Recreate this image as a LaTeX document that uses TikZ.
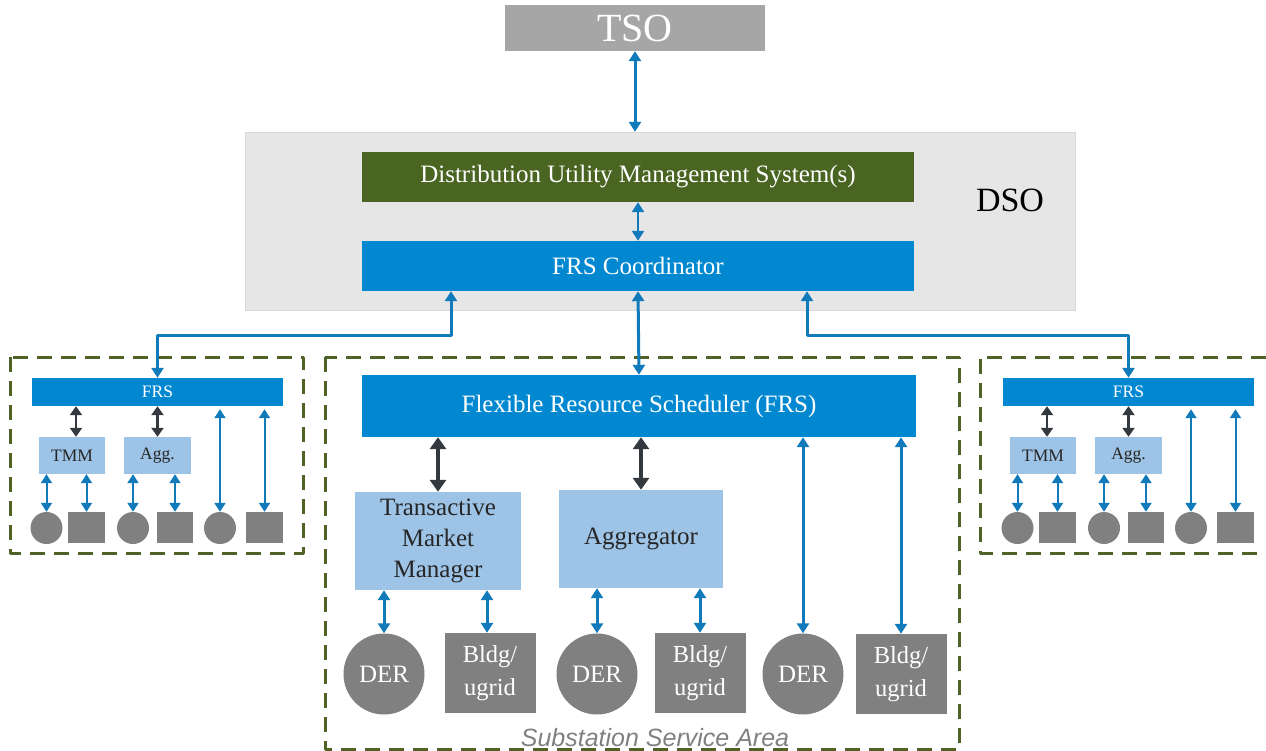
\documentclass[tikz,border=0pt]{standalone}
\usepackage{fontspec}
\setmainfont{Liberation Serif}
\setsansfont{Liberation Sans}
\usetikzlibrary{calc}
\usetikzlibrary{arrows.meta}

\definecolor{frsblue}{RGB}{2,136,209}
\definecolor{linkblue}{RGB}{16,122,186}
\definecolor{ltblue}{RGB}{157,195,230}
\definecolor{dsogreen}{RGB}{74,101,34}
\definecolor{areagreen}{RGB}{79,98,40}
\definecolor{resgray}{RGB}{128,128,128}
\definecolor{tsogray}{RGB}{166,166,166}
\definecolor{dsobg}{RGB}{230,230,230}
\definecolor{darklink}{RGB}{52,57,64}

\begin{document}
\begin{tikzpicture}[x=1pt, y=-1pt, line join = round]
\tikzstyle{bar}=[fill=frsblue, text=white, inner sep=0, minimum width=552pt, minimum height=50pt, font=\fontsize{25}{29}\selectfont]
\tikzstyle{midbox}=[fill=ltblue, text=black!85, inner sep=0, minimum height=98pt, align=center, font=\fontsize{25}{31}\selectfont]
\tikzstyle{der}=[circle, fill=resgray, text=white, inner sep=0, minimum size=81pt, font=\fontsize{25}{29}\selectfont]
\tikzstyle{bldg}=[fill=resgray, text=white, inner sep=0, minimum width=91pt, minimum height=80pt, align=center, font=\fontsize{24.5}{33}\selectfont]
\tikzstyle{smallbar}=[fill=frsblue, text=white, inner sep=0, minimum width=251pt, minimum height=28pt, font=\fontsize{17.5}{20}\selectfont]
\tikzstyle{smallbox}=[fill=ltblue, text=black!85, inner sep=0, minimum width=66pt, minimum height=37pt, font=\fontsize{17.5}{20}\selectfont]
\tikzstyle{dot}=[circle, fill=resgray, inner sep=0, minimum size=32pt]
\tikzstyle{blk}=[fill=resgray, inner sep=0, minimum width=37pt, minimum height=31pt]
\tikzstyle{blueline}=[linkblue, line width=3pt, {Triangle[length=10pt,width=12pt]}-{Triangle[length=10pt,width=12pt]}]
\tikzstyle{thinline}=[linkblue, line width=2pt, {Triangle[length=9pt,width=11pt]}-{Triangle[length=9pt,width=11pt]}]
\tikzstyle{darkline}=[darklink, line width=4.5pt, {Triangle[length=12pt,width=16pt]}-{Triangle[length=12pt,width=16pt]}]
\tikzstyle{smalldark}=[darklink, line width=2.6pt, {Triangle[length=9pt,width=12pt]}-{Triangle[length=9pt,width=12pt]}]
\tikzstyle{areabox}=[areagreen, line width=3pt, dash pattern=on 15pt off 9pt]

\useasboundingbox (0,0) rectangle (1266,751);

% DSO level
\node[fill=dsobg, draw=black!15, inner sep=0, minimum width=830pt, minimum height=178pt] (dso) at (660,221) {};
\node[font=\fontsize{34}{38}\selectfont] (dsolabel) at (1010,200) {DSO};
\node[fill=tsogray, text=white, inner sep=0, minimum width=260pt, minimum height=46pt, font=\fontsize{40}{44}\selectfont] (tso) at (635,28) {TSO};
\node[bar, fill=dsogreen] (dums) at (638,177) {Distribution Utility Management System(s)};
\node[bar] (frsc) at (638,266) {FRS Coordinator};

% substation areas
\draw[areabox] (10,357) rectangle (303,553);
\draw[areabox] (325,357) rectangle (959,749);
\draw[areabox] (1266,357) -- (980,357) -- (980,553) -- (1266,553);

% main substation
\node[bar, minimum width=554pt, minimum height=62pt] (frs) at (639,406) {Flexible Resource Scheduler (FRS)};
\node[midbox, minimum width=166pt] (tmm) at (438,541) {Transactive\\Market\\Manager};
\node[midbox, minimum width=164pt] (agg) at (641,539) {Aggregator};
\node[der] (der1) at (384,674) {DER};
\node[bldg] (bldg1) at (490,673) {Bldg/\\ugrid};
\node[der] (der2) at (597,674) {DER};
\node[bldg] (bldg2) at (700,673) {Bldg/\\ugrid};
\node[der] (der3) at (803,674) {DER};
\node[bldg] (bldg3) at (901,674) {Bldg/\\ugrid};
\node[font=\sffamily\itshape\fontsize{25}{28}\selectfont, text=resgray] (ssa) at (655,738) {Substation Service Area};

\draw[darkline] (tmm.north) -- (tmm.north |- frs.south);
\draw[darkline] (agg.north) -- (agg.north |- frs.south);
\draw[blueline] (der1.north) -- (der1.north |- tmm.south);
\draw[blueline] ([xshift=-3pt]bldg1.north) -- ([xshift=-3pt]bldg1.north |- tmm.south);
\draw[blueline] (der2.north) -- (der2.north |- agg.south);
\draw[blueline] (bldg2.north) -- (bldg2.north |- agg.south);
\draw[blueline] (der3.north) -- (der3.north |- frs.south);
\draw[blueline] (bldg3.north) -- (bldg3.north |- frs.south);

% neighbouring substations
\foreach \s/\dx in {L/0,R/971}{
  \node[smallbar] (frs\s) at ({157.5+\dx},392) {FRS};
  \node[smallbox] (tmm\s) at ({72+\dx},455.5) {TMM};
  \node[smallbox, minimum width=67pt] (agg\s) at ({157.5+\dx},455.5) {Agg.};
  \node[dot] (da\s) at ({46.5+\dx},528) {};
  \node[blk] (ba\s) at ({86.5+\dx},527.5) {};
  \node[dot] (db\s) at ({133+\dx},528) {};
  \node[blk, minimum width=36pt] (bb\s) at ({175+\dx},527.5) {};
  \node[dot] (dc\s) at ({220+\dx},528) {};
  \node[blk] (bc\s) at ({264.5+\dx},527.5) {};
  \draw[smalldark] ([xshift=4pt]tmm\s.north) -- ([xshift=4pt]tmm\s.north |- frs\s.south);
  \draw[smalldark] (agg\s.north) -- (agg\s.north |- frs\s.south);
  \draw[thinline] (da\s.north) -- (da\s.north |- tmm\s.south);
  \draw[thinline] (ba\s.north) -- (ba\s.north |- tmm\s.south);
  \draw[thinline] (db\s.north) -- (db\s.north |- agg\s.south);
  \draw[thinline] (bb\s.north) -- (bb\s.north |- agg\s.south);
  \draw[thinline, shorten <=3pt] (dc\s.north |- frs\s.south) -- (dc\s.north);
  \draw[thinline, shorten <=3pt] (bc\s.north |- frs\s.south) -- (bc\s.north);
}

% links between levels
\draw[blueline] (tso.south) -- (tso.south |- dso.north);
\draw[blueline, line width=2.4pt] (dums.south) -- (frsc.north);
\draw[blueline] (frsc.south) -- (frs.north);
\draw[blueline] ([xshift=-187pt]frsc.south) -- ++(0,44) -| (frsL.north);
\draw[blueline] ([xshift=169pt]frsc.south) -- ++(0,44) -| (frsR.north);
\end{tikzpicture}
\end{document}
